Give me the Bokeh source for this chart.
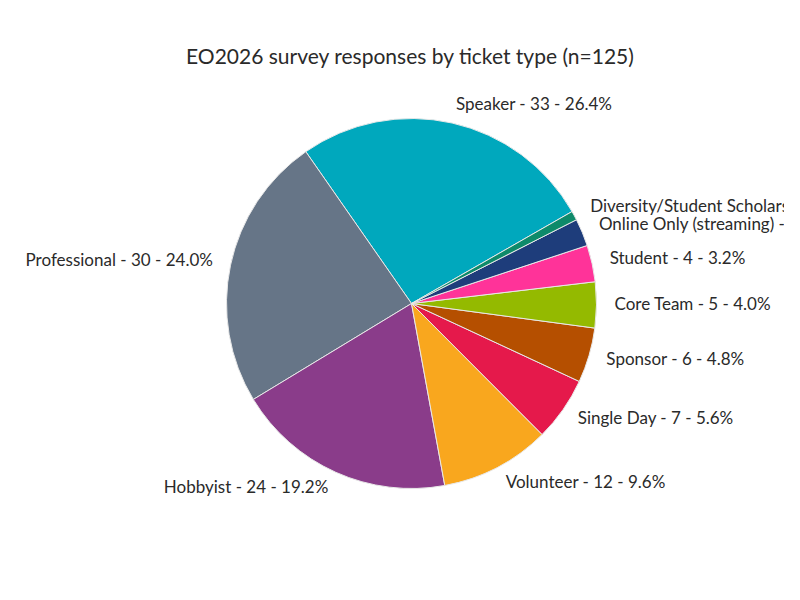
import math
from bokeh.plotting import figure
from bokeh.models import Range1d, ColumnDataSource
from bokeh.core.properties import value
from bokeh.embed import file_html
from bokeh.resources import INLINE

# ---- data ----
categories = ["Speaker", "Professional", "Hobbyist", "Volunteer", "Single Day",
              "Sponsor", "Core Team", "Student", "Online Only (streaming)",
              "Diversity/Student Scholarship"]
counts = [33, 30, 24, 12, 7, 6, 5, 4, 3, 1]
colors = ["#00A8BD", "#667587", "#8A3C8A", "#F9A71E", "#E5194B",
          "#B54F00", "#94BA00", "#FF3399", "#1E3D7B", "#0E8A6A"]
title_text = "EO2026 survey responses by ticket type (n=125)"

FONT = "Lato"
W, H = 784, 584
cx, cy, R = 411, 281, 185          # pie centre / radius in pixel-like data units
start_deg = 29.8                    # first slice begins here, goes counter-clockwise

total = sum(counts)
starts, ends, mids = [], [], []
acc = 0
for c in counts:
    a0 = math.radians(start_deg + 360.0 * acc / total)
    acc += c
    a1 = math.radians(start_deg + 360.0 * acc / total)
    starts.append(a0)
    ends.append(a1)
    mids.append((a0 + a1) / 2)

labels = [f"{n} - {c} - {100.0 * c / total:.1f}%" for n, c in zip(categories, counts)]

p = figure(width=W, height=H, output_backend="svg", toolbar_location=None,
           x_range=Range1d(0, W), y_range=Range1d(0, H),
           min_border=0, min_border_left=0, min_border_right=0,
           min_border_top=0, min_border_bottom=0)
p.axis.visible = False
p.grid.visible = False
p.outline_line_color = None
p.background_fill_color = "white"
p.border_fill_color = "white"

src = ColumnDataSource(dict(start=starts, end=ends, color=colors))
p.wedge(x=cx, y=cy, radius=R, start_angle="start", end_angle="end",
        direction="anticlock", fill_color="color", line_color="#E8E8E8",
        line_width=1, source=src)

LR = 203
rx, ry, lx, ly = [], [], [], []
rt, lt = [], []
for m, t in zip(mids, labels):
    x = cx + LR * math.cos(m)
    y = cy + LR * math.sin(m) + 2
    if math.cos(m) >= 0:
        rx.append(x); ry.append(y); rt.append(t)
    else:
        lx.append(x); ly.append(y); lt.append(t)

p.text(x=rx, y=ry, text=rt, text_align="left", text_baseline="middle",
       text_font=value(FONT), text_font_size="17px", text_color="#2A2A2A")
p.text(x=lx, y=ly, text=lt, text_align="right", text_baseline="middle",
       text_font=value(FONT), text_font_size="17px", text_color="#2A2A2A")

p.text(x=[cx - 1], y=[H - 55], text=[title_text], text_align="center",
       text_baseline="middle", text_font=value(FONT), text_font_size="21px",
       text_color="#2A2A2A")

open("out.html", "w").write(file_html(p, INLINE))
